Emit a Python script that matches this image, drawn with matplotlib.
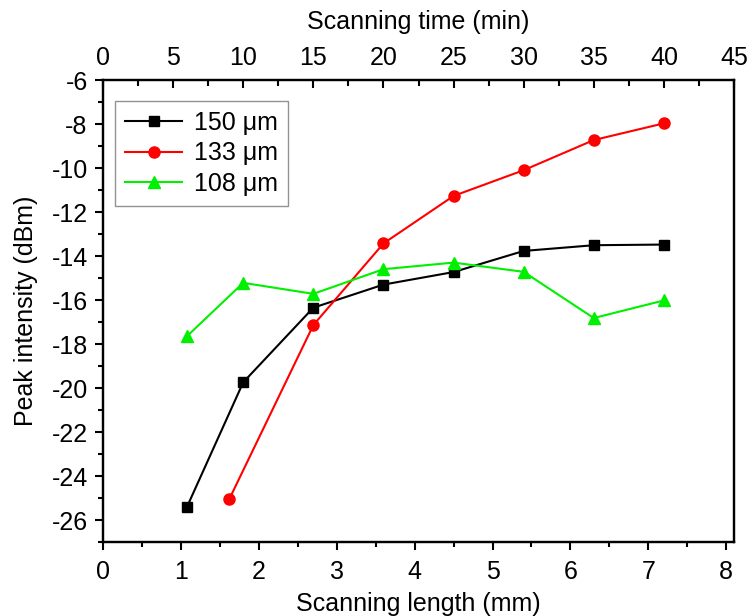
import matplotlib
matplotlib.use("Agg")
import matplotlib.pyplot as plt
from matplotlib.ticker import MultipleLocator

plt.rcParams['font.family'] = ['Liberation Sans', 'DejaVu Sans']
plt.rcParams['axes.unicode_minus'] = False

# Data
x_150 = [1.08, 1.8, 2.7, 3.6, 4.5, 5.4, 6.3, 7.2]
y_150 = [-25.39, -19.74, -16.35, -15.30, -14.73, -13.77, -13.51, -13.48]
x_133 = [1.62, 2.7, 3.6, 4.5, 5.4, 6.3, 7.2]
y_133 = [-25.06, -17.14, -13.43, -11.27, -10.10, -8.73, -7.97]
x_108 = [1.08, 1.8, 2.7, 3.6, 4.5, 5.4, 6.3, 7.2]
y_108 = [-17.64, -15.22, -15.72, -14.60, -14.30, -14.72, -16.82, -16.02]
labels = ['150 \u03bcm', '133 \u03bcm', '108 \u03bcm']

FS = 18

fig = plt.figure(figsize=(7.49, 6.16), dpi=100)
ax = fig.add_axes([103 / 749, 1 - 542 / 616, 631 / 749, 462 / 616])

ax.plot(x_150, y_150, color='black', marker='s', markersize=7.5, lw=1.5, label=labels[0])
ax.plot(x_133, y_133, color='red', marker='o', markersize=8, lw=1.5, label=labels[1])
ax.plot(x_108, y_108, color='#00f000', marker='^', markersize=9, lw=1.5, label=labels[2])

ax.set_xlim(0, 8.1)
ax.set_ylim(-27, -6)
ax.xaxis.set_major_locator(MultipleLocator(1))
ax.xaxis.set_minor_locator(MultipleLocator(0.5))
ax.yaxis.set_major_locator(MultipleLocator(2))
ax.yaxis.set_minor_locator(MultipleLocator(1))
ax.tick_params(axis='both', which='major', direction='out', length=6, width=1.5, labelsize=FS)
ax.tick_params(axis='both', which='minor', direction='out', length=3.5, width=1.5)
ax.tick_params(axis='x', which='major', pad=7)
ax.tick_params(axis='y', which='major', pad=5)
ax.tick_params(axis='y', which='both', right=False)
ax.tick_params(axis='x', which='both', top=False)
for s in ax.spines.values():
    s.set_linewidth(1.6)

ax.set_xlabel('Scanning length (mm)', fontsize=FS, labelpad=6)
ax.set_ylabel('Peak intensity (dBm)', fontsize=FS, labelpad=10)

ax2 = ax.twiny()
ax2.set_xlim(0, 45)
ax2.xaxis.set_major_locator(MultipleLocator(5))
ax2.xaxis.set_minor_locator(MultipleLocator(2.5))
ax2.tick_params(axis='x', which='major', direction='in', length=6, width=1.5, labelsize=FS, pad=7.5)
ax2.tick_params(axis='x', which='minor', direction='in', length=4, width=1.5)
ax2.set_xlabel('Scanning time (min)', fontsize=FS, labelpad=12)
for s in ax2.spines.values():
    s.set_linewidth(1.6)

leg = ax.legend(loc='upper left', bbox_to_anchor=(0.019, 0.9545), fontsize=FS, frameon=True,
                fancybox=False, edgecolor='#777777', handlelength=2.3, borderpad=0.4,
                labelspacing=0.25, handletextpad=0.45, borderaxespad=0)
leg.get_frame().set_linewidth(1.0)

fig.savefig('out.png', dpi=100)
